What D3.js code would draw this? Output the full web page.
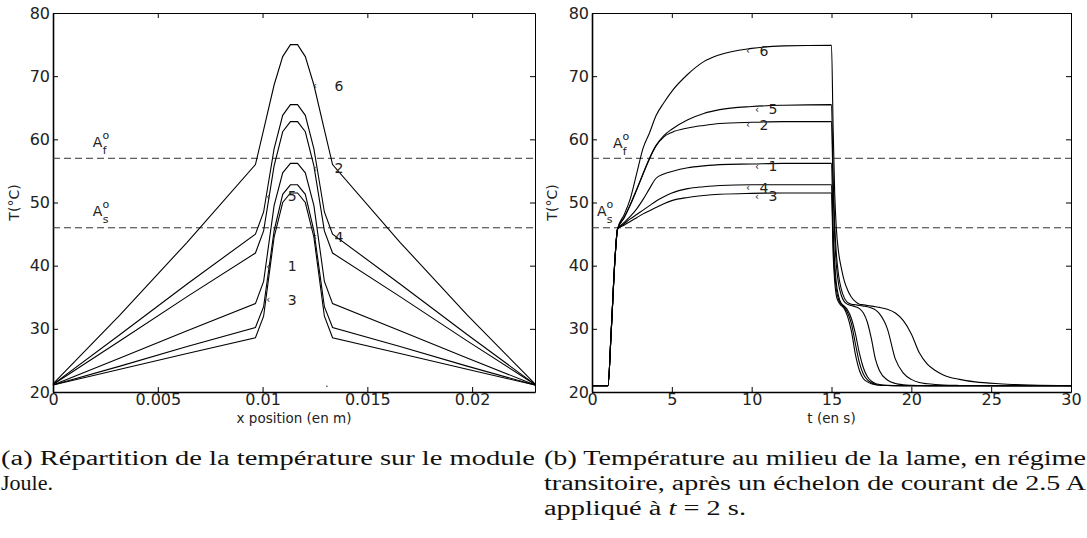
<!DOCTYPE html>
<html>
<head>
<meta charset="utf-8">
<script src="https://cdnjs.cloudflare.com/ajax/libs/d3/7.8.5/d3.min.js"></script>
<style>
  body { margin:0; background:#fff; }
  svg { display:block; }
  .axis text { font-family:"DejaVu Sans",sans-serif; font-size:16px; fill:#222; }
  .axis path, .axis line { stroke:#000; }
  .axis.bold path { stroke-width:1.6px; }
  .lbl { font-family:"DejaVu Sans",sans-serif; font-size:14px; fill:#222; }
  .cap { font-family:"Liberation Serif","Times New Roman",serif; font-size:20px; fill:#111; }
</style>
</head>
<body>
<svg id="fig" width="1087" height="538"></svg>
<script>
// ---------- shared ----------
const yTicks = [20, 30, 40, 50, 60, 70, 80];
const AfTemp = 57, AsTemp = 46;

// ---------- panel (a): T along the strip ----------
const xTicksL = [0, 0.005, 0.01, 0.015, 0.02];
const xPos = [0, 0.0032, 0.0064, 0.00966, 0.01005, 0.01055, 0.01096, 0.01133,
              0.01167, 0.01204, 0.01245, 0.01295, 0.01334, 0.01656, 0.01976, 0.023];
const prof6 = [21.3, 32.2, 43.7, 56, 61.5, 68.6, 73.1, 75, 75, 73.1, 68.6, 61.5, 56, 43.7, 32.2, 21.3];
const prof5 = [21.2, 29.1, 37.1, 45, 48.5, 58.5, 63.8, 65.5, 65.5, 63.8, 58.5, 48.5, 45, 37.1, 29.1, 21.2];
const prof2 = [21.2, 28.1, 35.1, 42, 45.5, 55.8, 61.2, 62.8, 62.8, 61.2, 55.8, 45.5, 42, 35.1, 28.1, 21.2];
const prof1 = [21.1, 25.4, 29.7, 34, 37.5, 49.5, 54.7, 56.2, 56.2, 54.7, 49.5, 37.5, 34, 29.7, 25.4, 21.1];
const prof4 = [21.1, 24.1, 27.2, 30.2, 33.5, 45.5, 51.3, 52.8, 52.8, 51.3, 45.5, 33.5, 30.2, 27.2, 24.1, 21.1];
const prof3 = [21.1, 23.6, 26.1, 28.6, 32, 44.5, 50, 51.5, 51.5, 50, 44.5, 32, 28.6, 26.1, 23.6, 21.1];
const labelsL = [
  {id:"6", x:0.0125,  T:68.5}, {id:"2", x:0.0125,  T:55.4}, {id:"4", x:0.0125,  T:44.6},
  {id:"5", x:0.01027, T:51.0}, {id:"1", x:0.01027, T:39.9}, {id:"3", x:0.01027, T:34.6}
];
const specksL = [{x:0.01307, T:20.9}];

// ---------- panel (b): T at the middle vs time ----------
const xTicksR = [0, 5, 10, 15, 20, 25, 30];
const tGrid = [0, 1, 1.2, 1.45, 1.6,
  2, 2.4, 2.8, 3.2, 3.6, 4, 4.5, 5, 6, 7, 8, 10, 12, 15,
  15.1, 15.2, 15.3, 15.45, 15.6, 15.8,
  16, 16.25, 16.5, 16.75, 17, 17.25, 17.5, 17.75, 18,
  18.5, 19, 19.5, 20, 20.5, 21, 21.5, 22,
  23, 24, 25.5, 27.5, 30];
const rise = [21, 21, 29.5, 41.5, 45.8];
const temp6 = rise.concat(
  [48.0, 50.6, 54.6, 58.6, 61.0, 63.7, 65.8, 67.6, 70.3, 72.3, 73.4, 74.4, 74.8, 74.9],
  [62, 51.5, 46, 42, 39.8, 37.6],
  [36.2, 35, 34.3, 33.9, 33.8, 33.7, 33.6, 33.5, 33.4],
  [33.1, 32.5, 31.3, 29.2, 26.2, 24.4, 23.4, 22.7],
  [22.0, 21.6, 21.3, 21.1, 21.0]);
const temp5 = rise.concat(
  [47.6, 49.7, 52.1, 54.6, 57.0, 59.0, 60.6, 61.6, 63.1, 64.1, 64.7, 65.2, 65.4, 65.5],
  [54, 46.5, 42, 38.4, 36.4, 34.9],
  [34.2, 33.9, 33.8, 33.7, 33.6, 33.5, 33.3, 33.0, 32.4],
  [30.0, 25.2, 23.0, 22.0, 21.5, 21.3, 21.18, 21.1],
  [21.04, 21.02, 21.0, 21.0, 21.0]);
const temp2 = rise.concat(
  [47.5, 49.6, 52.0, 54.5, 56.9, 58.9, 60.4, 61.1, 61.8, 62.2, 62.5, 62.7, 62.8, 62.8],
  [52, 44.5, 40.2, 37, 35.4, 34.3],
  [33.9, 33.7, 33.5, 33.2, 32.5, 31.0, 28.4, 25.2, 23.4],
  [21.9, 21.35, 21.15, 21.07, 21.03, 21.0, 21.0, 21.0],
  [21, 21, 21, 21, 21]);
const temp1 = rise.concat(
  [46.8, 47.8, 49.0, 50.5, 52.2, 53.8, 54.5, 54.9, 55.5, 55.8, 56.0, 56.1, 56.2, 56.2],
  [46, 40.5, 37.3, 35.1, 34.1, 33.6],
  [33.0, 31.6, 29.2, 26.1, 23.8, 22.4, 21.7, 21.35, 21.2],
  [21.06, 21.02, 21.0, 21, 21, 21, 21, 21],
  [21, 21, 21, 21, 21]);
const temp4 = rise.concat(
  [46.6, 47.4, 48.1, 48.8, 49.5, 50.2, 50.9, 51.5, 52.2, 52.5, 52.7, 52.8, 52.8, 52.8],
  [44, 39, 36.3, 34.6, 33.9, 33.4],
  [32.6, 30.8, 27.6, 24.6, 22.8, 21.9, 21.45, 21.2, 21.1],
  [21.03, 21.0, 21, 21, 21, 21, 21, 21],
  [21, 21, 21, 21, 21]);
const temp3 = rise.concat(
  [46.4, 47.0, 47.6, 48.2, 48.7, 49.2, 49.8, 50.3, 50.8, 51.1, 51.3, 51.45, 51.5, 51.5],
  [42, 37.5, 35.3, 34.2, 33.7, 33.2],
  [32.0, 29.6, 25.9, 23.4, 22.1, 21.6, 21.3, 21.15, 21.08],
  [21.03, 21.0, 21, 21, 21, 21, 21, 21],
  [21, 21, 21, 21, 21]);
const labelsR = [
  {id:"6", t:9.77,  T:74.0}, {id:"5", t:10.33, T:64.8}, {id:"2", t:9.77,  T:62.3},
  {id:"1", t:10.33, T:55.7}, {id:"4", t:9.77,  T:52.3}, {id:"3", t:10.33, T:51.0}
];

// ---------- drawing ----------
const svg = d3.select("#fig");
const y  = d3.scaleLinear().domain([20, 80]).range([392, 13]);
const xL = d3.scaleLinear().domain([0, 0.023]).range([53, 535]);
const xR = d3.scaleLinear().domain([0, 30]).range([592, 1071]);

function frame(g, x, xTicks){
  const [x0, x1] = x.range();
  const [yb, yt] = y.range();
  g.append("g").attr("class","axis bold").attr("transform",`translate(0,${yb})`)
    .call(d3.axisBottom(x).tickValues(xTicks).tickFormat(d => String(d))
      .tickSizeInner(-5).tickSizeOuter(0).tickPadding(2));
  g.append("g").attr("class","axis").attr("transform",`translate(0,${yt})`)
    .call(d3.axisTop(x).tickValues(xTicks).tickFormat("").tickSizeInner(-5).tickSizeOuter(0));
  g.append("g").attr("class","axis bold").attr("transform",`translate(${x0},0)`)
    .call(d3.axisLeft(y).tickValues(yTicks).tickSizeInner(-5).tickSizeOuter(0).tickPadding(3));
  g.append("g").attr("class","axis").attr("transform",`translate(${x1},0)`)
    .call(d3.axisRight(y).tickValues(yTicks).tickFormat("").tickSizeInner(-5).tickSizeOuter(0));
  g.selectAll(".axis text").attr("fill","#222");
  // dashed transformation temperatures
  [AfTemp, AsTemp].forEach(T => {
    g.append("line").attr("x1", x0).attr("x2", x1).attr("y1", y(T)).attr("y2", y(T))
      .attr("stroke","#333").attr("stroke-width",1).attr("stroke-dasharray","7,4");
  });
}

function aLabel(g, px, T, sub){
  const t = g.append("text").attr("class","lbl").attr("x", px).attr("y", y(T)).style("font-size","14px");
  t.append("tspan").text("A");
  t.append("tspan").attr("dy",-8).style("font-size","11px").text("o");
  t.append("tspan").attr("dx",-6.5).attr("dy",15).style("font-size","11px").text(sub);
}

function axisTitles(g, x, title, ylx){
  const [x0, x1] = x.range();
  g.append("text").attr("class","lbl").attr("x",(x0+x1)/2).attr("y",422.5)
    .attr("text-anchor","middle").style("font-size","13.5px").text(title);
  g.append("text").attr("class","lbl").attr("transform",`translate(${ylx},${y(50)}) rotate(-90)`)
    .attr("text-anchor","middle").text("T(°C)");
}

// panel (a)
const gA = svg.append("g");
frame(gA, xL, xTicksL);
const lineA = d3.line().x((d,i) => xL(xPos[i])).y(d => y(d));
[prof6, prof5, prof2, prof1, prof4, prof3].forEach(p => {
  gA.append("path").attr("d", lineA(p)).attr("fill","none").attr("stroke","#000").attr("stroke-width",1.1);
});
labelsL.forEach(d => {
  gA.append("text").attr("class","lbl").attr("x", xL(d.x)).attr("y", y(d.T))
    .attr("dominant-baseline","central").attr("text-anchor","middle").style("font-size","10px").text("‹");
  gA.append("text").attr("class","lbl").attr("x", xL(d.x) + 24).attr("y", y(d.T))
    .attr("dominant-baseline","central").attr("text-anchor","middle").text(d.id);
});
specksL.forEach(d => gA.append("circle").attr("cx", xL(d.x)).attr("cy", y(d.T)).attr("r",0.8).attr("fill","#333"));
aLabel(gA, xL(0.0019), 58.8, "f");
aLabel(gA, xL(0.0019), 47.8, "s");
axisTitles(gA, xL, "x position (en m)", 19);

// panel (b)
const gB = svg.append("g");
frame(gB, xR, xTicksR);
const lineB = d3.line().curve(d3.curveMonotoneX).x((d,i) => xR(tGrid[i])).y(d => y(d));
[temp6, temp5, temp2, temp1, temp4, temp3].forEach(s => {
  gB.append("path").attr("d", lineB(s)).attr("fill","none").attr("stroke","#000").attr("stroke-width",1.1);
});
labelsR.forEach(d => {
  gB.append("text").attr("class","lbl").attr("x", xR(d.t)).attr("y", y(d.T))
    .attr("dominant-baseline","central").attr("text-anchor","middle").style("font-size","10px").text("‹");
  gB.append("text").attr("class","lbl").attr("x", xR(d.t) + 16).attr("y", y(d.T))
    .attr("dominant-baseline","central").attr("text-anchor","middle").text(d.id);
});
aLabel(gB, xR(1.31), 58.6, "f");
aLabel(gB, xR(0.31), 47.8, "s");
axisTitles(gB, xR, "t (en s)", 557);

// captions
const caps = [
  {x:1,   y:465, w:534, parts:[["(a) Répartition de la température sur le module"]]},
  {x:1,   y:490, w:52,  parts:[["Joule."]]},
  {x:544, y:465, w:542, parts:[["(b) Température au milieu de la lame, en régime"]]},
  {x:544, y:490, w:542, parts:[["transitoire, après un échelon de courant de 2.5 A"]]},
  {x:544, y:515, w:202, parts:[["appliqué à "], ["t", "italic"], [" = 2 s."]]}
];
caps.forEach(c => {
  const t = svg.append("text").attr("class","cap").attr("x", c.x).attr("y", c.y)
    .attr("textLength", c.w).attr("lengthAdjust","spacingAndGlyphs");
  c.parts.forEach(p => t.append("tspan").style("font-style", p[1] || "normal").text(p[0]));
});
</script>
</body>
</html>
